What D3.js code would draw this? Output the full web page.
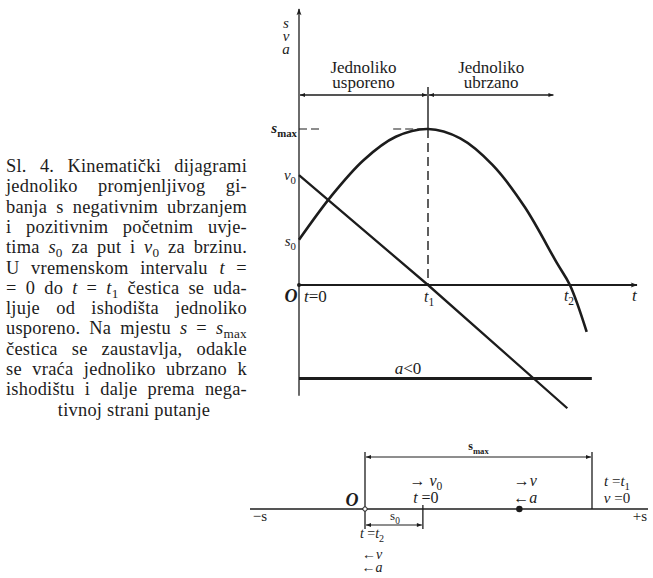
<!DOCTYPE html>
<html>
<head>
<meta charset="utf-8">
<script src="https://cdn.jsdelivr.net/npm/d3@7"></script>
<style>
  body { margin: 0; background: #fff; }
  text { font-family: "Liberation Serif", "Times New Roman", serif; fill: #1c1c1c; }
</style>
</head>
<body>
<script>
const w = 653, h = 578;

// values (time unit: t1 = 1, value unit: s_max = 1)
const sTimes  = [0, 0.25, 0.5, 0.75, 1.0, 1.25, 1.5, 1.75, 2.0, 2.1, 2.23];
const sValues = [0.29, 0.57, 0.80, 0.95, 1.0, 0.94, 0.77, 0.50, 0.14, 0, -0.30];
const vTimes  = [0, 1, 2.08];
const vValues = [0.705, 0, -0.79];
const aTimes  = [0, 2.27];
const aValues = [-0.6, -0.6];
const sMax = 1.0, s0 = 0.29, v0 = 0.705;
const t1 = 1, t2 = 2.1, tEnd = 2.62;
const phaseStart = [0, 1], phaseEnd = [1, 1.98];
const phaseLabels = [["Jednoliko", "usporeno"], ["Jednoliko", "ubrzano"]];

// positions along the path (s_max = 1)
const pathS0 = 0.255, pathDot = 0.68;

const caption = [
  ["Sl. 4. Kinematički dijagrami"],
  ["jednoliko promjenljivog gi-"],
  ["banja s negativnim ubrzanjem"],
  ["i pozitivnim početnim uvje-"],
  ["tima ", ["s", "i"], ["0", "sub"], " za put i ", ["v", "i"], ["0", "sub"], " za brzinu."],
  ["U vremenskom intervalu ", ["t", "i"], " ="],
  ["= 0 do ", ["t", "i"], " = ", ["t", "i"], ["1", "sub"], " čestica se uda-"],
  ["ljuje od ishodišta jednoliko"],
  ["usporeno. Na mjestu ", ["s", "i"], " = ", ["s", "i"], ["max", "sub"]],
  ["čestica se zaustavlja, odakle"],
  ["se vraća jednoliko ubrzano k"],
  ["ishodištu i dalje prema nega-"],
  ["tivnoj strani putanje"]
];

const svg = d3.select("body").append("svg")
  .attr("width", w).attr("height", h);

const defs = svg.append("defs");
defs.append("marker").attr("id", "head")
  .attr("viewBox", "0 0 10 10").attr("refX", 9).attr("refY", 5)
  .attr("markerWidth", 10).attr("markerHeight", 7)
  .attr("markerUnits", "userSpaceOnUse").attr("orient", "auto-start-reverse")
  .append("path").attr("d", "M0,1.5 L10,5 L0,8.5 L2.5,5 z").attr("fill", "#1c1c1c");
defs.append("marker").attr("id", "dim")
  .attr("viewBox", "0 0 10 10").attr("refX", 10).attr("refY", 5)
  .attr("markerWidth", 9).attr("markerHeight", 5)
  .attr("markerUnits", "userSpaceOnUse").attr("orient", "auto-start-reverse")
  .append("path").attr("d", "M0,1 L10,5 L0,9 z").attr("fill", "#1c1c1c");

// text with italics / subscripts, possibly several lines in one element
// xs: one x or one per line; lh: one line step or one per line break
function richLines(g, xs, y, lines, lh, spacing) {
  const xAt = i => Array.isArray(xs) ? xs[i] : xs;
  const t = g.append("text").attr("x", xAt(0)).attr("y", y);
  let shift = 0;
  lines.forEach((segs, li) => {
    segs.forEach((s, si) => {
      const [str, kind] = typeof s === "string" ? [s, ""] : s;
      const sp = t.append("tspan").text(str);
      const target = kind.includes("sub") ? 4 : 0;
      let dy = target - shift;
      if (si === 0 && li > 0) {
        sp.attr("x", xAt(li));
        dy += Array.isArray(lh) ? lh[li - 1] : lh;
      }
      if (dy) sp.attr("dy", dy);
      shift = target;
      if (kind.includes("i")) sp.attr("font-style", "italic");
      if (kind.includes("sub")) sp.attr("font-size", "0.72em");
      if (spacing && spacing[li]) sp.attr("word-spacing", spacing[li]);
    });
  });
  return t;
}
const rich = (g, x, y, segs) => richLines(g, x, y, [segs], 0);

// ---- caption, justified except the last line, which is centred
const capSize = 18.4, capLead = 20.3, capLeft = 6, capWidth = 241, capMid = 134;
const cap = svg.append("g").attr("font-size", capSize).attr("letter-spacing", 0.25);
const natural = caption.map(segs => {
  const tmp = rich(cap, 0, 0, segs);
  const len = tmp.node().getComputedTextLength();
  const spaces = (tmp.text().match(/ /g) || []).length;
  tmp.remove();
  return { len, spaces };
});
const last = caption.length - 1;
const spacing = natural.map((n, i) =>
  i === last || !n.spaces ? 0 : (capWidth - n.len) / n.spaces);
const capX = natural.map((n, i) => i === last ? capMid - n.len / 2 : capLeft);
richLines(cap, capX, 172, caption, capLead, spacing);

// ---- kinematic diagram
const x = d3.scaleLinear().domain([0, 1]).range([299, 428]);
const y = d3.scaleLinear().domain([0, 1]).range([285, 129]);
const ink = "#1c1c1c";

const g = svg.append("g");

// axes
g.append("line")
  .attr("x1", x(0)).attr("x2", x(0))
  .attr("y1", y(-0.71)).attr("y2", y(1.77))
  .attr("stroke", ink).attr("stroke-width", 1.3)
  .attr("marker-end", "url(#head)");
g.append("line")
  .attr("x1", x(0)).attr("x2", x(tEnd))
  .attr("y1", y(0)).attr("y2", y(0))
  .attr("stroke", ink).attr("stroke-width", 1.8)
  .attr("marker-end", "url(#head)");
g.append("circle").attr("cx", x(0)).attr("cy", y(0)).attr("r", 2).attr("fill", ink);

richLines(g, 286, 28, [[["s", "i"]], [["v", "i"]], [["a", "i"]]], 13)
  .attr("text-anchor", "middle").attr("font-size", 15);

// phases
const yPhase = 95;
phaseStart.forEach((p, i) => {
  g.append("line")
    .attr("x1", x(p) + 1).attr("x2", x(phaseEnd[i]) - 1)
    .attr("y1", yPhase).attr("y2", yPhase)
    .attr("stroke", ink).attr("stroke-width", 1.3)
    .attr("marker-start", "url(#dim)").attr("marker-end", "url(#dim)");
  const cx = (x(p) + x(phaseEnd[i])) / 2;
  richLines(g, cx, 73, phaseLabels[i].map(l => [l]), 15)
    .attr("text-anchor", "middle").attr("font-size", 17);
});

// t1 marker: solid above s_max, dashed below
g.append("line")
  .attr("x1", x(t1)).attr("x2", x(t1)).attr("y1", 87).attr("y2", y(sMax))
  .attr("stroke", ink).attr("stroke-width", 1.4);
g.append("line")
  .attr("x1", x(t1)).attr("x2", x(t1)).attr("y1", y(sMax)).attr("y2", y(0))
  .attr("stroke", ink).attr("stroke-width", 1.4).attr("stroke-dasharray", "9,5");

// s_max dashes
g.append("line")
  .attr("x1", x(0)).attr("x2", x(0.18)).attr("y1", y(sMax)).attr("y2", y(sMax))
  .attr("stroke", ink).attr("stroke-width", 1.2).attr("stroke-dasharray", "8,4");
g.append("line")
  .attr("x1", x(0.73)).attr("x2", x(t1)).attr("y1", y(sMax)).attr("y2", y(sMax))
  .attr("stroke", ink).attr("stroke-width", 1.2).attr("stroke-dasharray", "8,4");

// s(t)
const sLine = d3.line().x(d => x(d[0])).y(d => y(d[1])).curve(d3.curveCatmullRom);
g.append("path")
  .datum(sTimes.map((t, i) => [t, sValues[i]]))
  .attr("d", sLine).attr("fill", "none")
  .attr("stroke", ink).attr("stroke-width", 2.6);

// v(t)
const straight = d3.line().x(d => x(d[0])).y(d => y(d[1]));
g.append("path")
  .datum(vTimes.map((t, i) => [t, vValues[i]]))
  .attr("d", straight).attr("fill", "none")
  .attr("stroke", ink).attr("stroke-width", 2.3);

// a(t)
g.append("path")
  .datum(aTimes.map((t, i) => [t, aValues[i]]))
  .attr("d", straight).attr("fill", "none")
  .attr("stroke", ink).attr("stroke-width", 3);
rich(g, 408, y(aValues[0]) - 5, [["a", "i"], "<0"])
  .attr("text-anchor", "middle").attr("font-size", 17);

// value labels on the vertical axis
rich(g, 297, y(sMax) + 4, [["s", "i"], ["max", "sub"]])
  .attr("text-anchor", "end").attr("font-size", 15).attr("font-weight", "bold");
rich(g, 296, y(v0) + 5, [["v", "i"], ["0", "sub"]])
  .attr("text-anchor", "end").attr("font-size", 15);
rich(g, 296, y(s0) + 6, [["s", "i"], ["0", "sub"]])
  .attr("text-anchor", "end").attr("font-size", 15);

// time labels
g.append("text").attr("x", 291).attr("y", 302).attr("text-anchor", "middle")
  .attr("font-style", "italic").attr("font-size", 18).attr("font-weight", "bold").text("O");
rich(g, 304, 302, [["t", "i"], "=0"]).attr("font-size", 17);
rich(g, x(t1) - 4, 302, [["t", "i"], ["1", "sub"]]).attr("font-size", 16);
rich(g, x(t2) - 6, 301, [["t", "i"], ["2", "sub"]]).attr("font-size", 16);
g.append("text").attr("x", 632).attr("y", 301).attr("font-style", "italic")
  .attr("font-size", 17).text("t");

// ---- motion along the path
const p = d3.scaleLinear().domain([0, 1]).range([365, 592]);
const yAx = 509;
const b = svg.append("g");

b.append("line").attr("x1", 250).attr("x2", 648).attr("y1", yAx).attr("y2", yAx)
  .attr("stroke", ink).attr("stroke-width", 1.4);
b.append("text").attr("x", 260).attr("y", 521).attr("text-anchor", "middle")
  .attr("font-size", 15).text("−s");
b.append("text").attr("x", 640).attr("y", 521).attr("text-anchor", "middle")
  .attr("font-size", 15).text("+s");

// verticals
[[p(0), 452, 529], [p(sMax), 452, yAx], [p(pathS0), 505, 529]].forEach(([vx, a, c]) => {
  b.append("line").attr("x1", vx).attr("x2", vx).attr("y1", a).attr("y2", c)
    .attr("stroke", ink).attr("stroke-width", 1.3);
});
b.append("circle").attr("cx", p(0)).attr("cy", yAx).attr("r", 2.2)
  .attr("fill", "#fff").attr("stroke", ink).attr("stroke-width", 1);
b.append("circle").attr("cx", p(pathDot)).attr("cy", yAx).attr("r", 3.2).attr("fill", ink);

// dimension lines
b.append("line").attr("x1", p(0) + 1).attr("x2", p(sMax) - 1).attr("y1", 457).attr("y2", 457)
  .attr("stroke", ink).attr("stroke-width", 1)
  .attr("marker-start", "url(#dim)").attr("marker-end", "url(#dim)");
rich(b, (p(0) + p(sMax)) / 2, 450, [["s", ""], ["max", "sub"]])
  .attr("text-anchor", "middle").attr("font-size", 12).attr("font-weight", "bold");
b.append("line").attr("x1", p(0) + 1).attr("x2", p(pathS0) - 1).attr("y1", 525).attr("y2", 525)
  .attr("stroke", ink).attr("stroke-width", 1)
  .attr("marker-start", "url(#dim)").attr("marker-end", "url(#dim)");
rich(b, (p(0) + p(pathS0)) / 2 + 1, 520, [["s", ""], ["0", "sub"]])
  .attr("text-anchor", "middle").attr("font-size", 13);

b.append("text").attr("x", 352).attr("y", 506).attr("text-anchor", "middle")
  .attr("font-style", "italic").attr("font-size", 18).attr("font-weight", "bold").text("O");

richLines(b, p(pathS0) + 3, 486, [["→ ", ["v", "i"], ["0", "sub"]], [["t", "i"], " =0"]], 17)
  .attr("text-anchor", "middle").attr("font-size", 16);
richLines(b, p(pathDot) + 6, 486, [["→", ["v", "i"]], ["←", ["a", "i"]]], 17)
  .attr("text-anchor", "middle").attr("font-size", 16);
richLines(b, p(sMax) + 25, 486, [[["t", "i"], " =", ["t", "i"], ["1", "sub"]], [["v", "i"], " =0"]], 17)
  .attr("text-anchor", "middle").attr("font-size", 15);
richLines(b, p(0) + 7, 538, [[["t", "i"], " =", ["t", "i"], ["2", "sub"]], ["←", ["v", "i"]], ["←", ["a", "i"]]], [21, 13])
  .attr("text-anchor", "middle").attr("font-size", 14);
</script>
</body>
</html>
